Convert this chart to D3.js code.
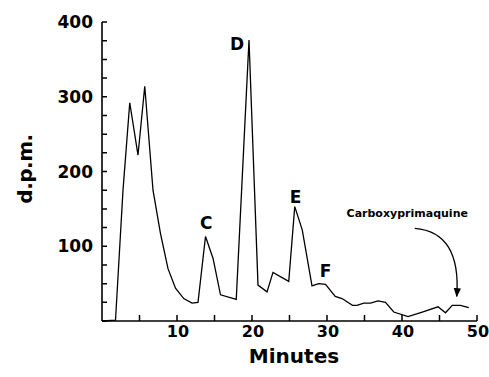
<!DOCTYPE html>
<html>
<head>
<meta charset="utf-8">
<script src="https://cdn.jsdelivr.net/npm/d3@7"></script>
<style>
  body { margin: 0; background: #fff; }
  text { font-family: "DejaVu Sans", sans-serif; font-weight: bold; fill: #000; }
</style>
</head>
<body>
<div id="chart"></div>
<script>
// elution profile
var minutes = [0, 1.8, 2.8, 3.7, 4.8, 5.7, 6.8, 7.8, 8.8, 9.8, 10.9, 12.0, 12.8, 13.8, 14.8, 15.8, 17.9, 19.6,
               20.8, 22.0, 22.8, 24.9, 25.7, 26.7, 28.0, 28.9, 29.8, 31.1, 32.0, 33.4, 34.0, 34.9, 35.8, 36.8,
               37.8, 38.9, 40.8, 42.7, 44.8, 45.8, 46.7, 47.8, 48.9];
var dpm = [0, 1, 175, 292, 222, 314, 175, 117, 70, 44, 30, 24, 25, 113, 84, 35, 29, 376,
           48, 39, 65, 53, 153, 122, 47, 50, 49, 33, 30, 21, 21, 24, 24, 27,
           25, 12, 6, 12, 19, 11, 21, 21, 18];

var yTicks = d3.range(0, 401, 25);
var yLabels = [100, 200, 300, 400];
var xTicks = d3.range(5, 51, 5);
var xLabels = [10, 20, 30, 40, 50];

var peakNames = ["C", "D", "E", "F"];
var peakMin = [13.9, 18.0, 25.8, 29.8];
var peakVal = [123, 362, 158, 59];

var width = 489, height = 377;

var x = d3.scaleLinear().domain([0, 50]).range([102, 477]);
var y = d3.scaleLinear().domain([0, 400]).range([321, 22]);

var svg = d3.select("#chart").append("svg")
    .attr("width", width)
    .attr("height", height);

// axes: d3 draws the spines, tick marks drawn as one path each
var gy = svg.append("g")
    .attr("transform", "translate(" + x(0) + ",0)")
    .call(d3.axisRight(y).tickValues(yTicks).tickSize(0).tickFormat(function() { return ""; }));
var gx = svg.append("g")
    .attr("transform", "translate(0," + y(0) + ")")
    .call(d3.axisTop(x).tickValues(xTicks).tickSize(0).tickFormat(function() { return ""; }));

svg.selectAll(".domain").attr("stroke", "#000").attr("stroke-width", 1.6);
gy.select(".domain").attr("d", "M0," + y(400) + "V" + y(0));
gx.select(".domain").attr("d", "M" + x(0) + ",0H" + x(50));

svg.append("path")
    .attr("d", yTicks.map(function(t) { return "M" + x(0) + "," + y(t) + "h5"; }).join(""))
    .attr("fill", "none")
    .attr("stroke", "#000")
    .attr("stroke-width", 1.5);

svg.append("path")
    .attr("d", xTicks.map(function(t) { return "M" + x(t) + "," + y(0) + "v-6"; }).join(""))
    .attr("fill", "none")
    .attr("stroke", "#000")
    .attr("stroke-width", 1.5);

svg.selectAll(".ylab").data(yLabels).enter().append("text")
    .attr("class", "ylab")
    .attr("x", 93)
    .attr("y", function(d) { return y(d) + 6; })
    .attr("text-anchor", "end")
    .style("font-size", "17px")
    .text(function(d) { return d; });

svg.selectAll(".xlab").data(xLabels).enter().append("text")
    .attr("class", "xlab")
    .attr("x", function(d) { return x(d) + 1; })
    .attr("y", 337)
    .attr("text-anchor", "middle")
    .style("font-size", "16px")
    .text(function(d) { return d; });

svg.append("text")
    .attr("x", 294)
    .attr("y", 363)
    .attr("text-anchor", "middle")
    .style("font-size", "20px")
    .text("Minutes");

svg.append("text")
    .attr("transform", "translate(32,169) rotate(-90)")
    .attr("text-anchor", "middle")
    .style("font-size", "20px")
    .style("letter-spacing", "-0.5px")
    .text("d.p.m.");

// trace
var trace = d3.line()
    .x(function(d, i) { return x(minutes[i]); })
    .y(function(d) { return y(d); });

svg.append("path")
    .datum(dpm)
    .attr("d", trace)
    .attr("fill", "none")
    .attr("stroke", "#000")
    .attr("stroke-width", 1.3);

svg.selectAll(".peak").data(peakNames).enter().append("text")
    .attr("class", "peak")
    .attr("x", function(d, i) { return x(peakMin[i]); })
    .attr("y", function(d, i) { return y(peakVal[i]); })
    .attr("text-anchor", "middle")
    .style("font-size", "17px")
    .text(function(d) { return d; });

// carboxyprimaquine note + arrow
svg.append("text")
    .attr("x", x(40.7))
    .attr("y", y(139))
    .attr("text-anchor", "middle")
    .style("font-size", "11px")
    .text("Carboxyprimaquine");

svg.append("defs").append("marker")
    .attr("id", "head")
    .attr("viewBox", "0 0 10 10")
    .attr("refX", 9).attr("refY", 5)
    .attr("markerWidth", 7).attr("markerHeight", 7)
    .attr("orient", "auto")
  .append("path")
    .attr("d", "M0,1L10,5L0,9z")
    .attr("fill", "#000");

var ax = [41.7, 47.9, 47.3], ay = [124, 119, 33];
svg.append("path")
    .attr("d", "M" + x(ax[0]) + "," + y(ay[0]) +
               "Q" + x(ax[1]) + "," + y(ay[1]) + " " + x(ax[2]) + "," + y(ay[2]))
    .attr("fill", "none")
    .attr("stroke", "#000")
    .attr("stroke-width", 1.3)
    .attr("marker-end", "url(#head)");
</script>
</body>
</html>
